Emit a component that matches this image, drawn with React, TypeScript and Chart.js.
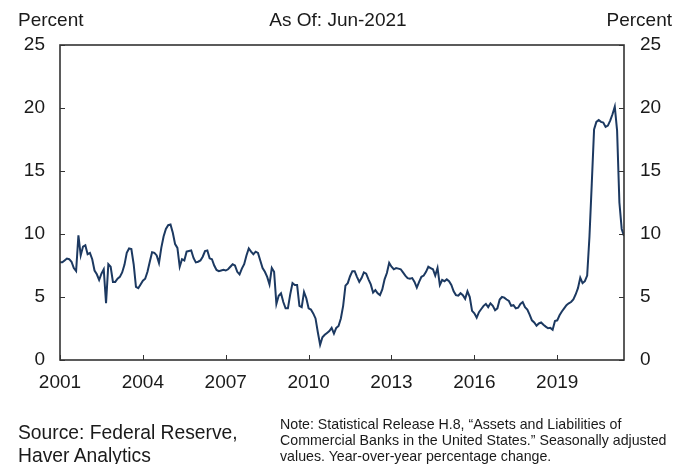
import React, { useEffect, useRef } from "react";
import { Chart, registerables } from "chart.js";

Chart.register(...registerables);

// Monthly year-over-year growth, Jan 2001 .. Jun 2021 (percent)
const START_YEAR = 2001;
const growth2001to2005 = [
  7.75, 7.75, 7.9, 8.05, 8.0, 7.8, 7.3, 7.06, 9.9, 8.3, 9.0, 9.1,
  8.4, 8.5, 8.0, 7.1, 6.8, 6.35, 6.85, 7.2, 4.5, 7.6, 7.4, 6.2,
  6.2, 6.45, 6.6, 6.95, 7.55, 8.5, 8.85, 8.8, 7.6, 5.8, 5.7, 6.0,
  6.3, 6.45, 7.0, 7.8, 8.55, 8.5, 8.3, 7.7, 8.9, 9.8, 10.4, 10.7,
  10.75, 10.1, 9.2, 8.9, 7.4, 8.0, 7.9, 8.6, 8.65, 8.7, 8.1, 7.75,
];
const growth2006to2010 = [
  7.8, 7.9, 8.2, 8.65, 8.7, 8.07, 8.0, 7.5, 7.15, 7.05, 7.1, 7.15,
  7.1, 7.2, 7.4, 7.6, 7.5, 7.0, 6.8, 7.25, 7.6, 8.3, 8.85, 8.6,
  8.4, 8.6, 8.5, 7.9, 7.3, 7.0, 6.6, 6.0, 7.3, 7.0, 4.45, 5.1,
  5.3, 4.6, 4.1, 4.1, 5.2, 6.1, 5.95, 5.95, 4.3, 4.2, 5.4, 4.9,
  4.1, 4.0, 3.7, 3.3, 2.2, 1.2, 1.8, 2.0, 2.15, 2.3, 2.55, 2.1,
];
const growth2011to2015 = [
  2.55, 2.7, 3.3, 4.3, 5.9, 6.1, 6.65, 7.05, 7.05, 6.6, 6.2, 6.5,
  6.95, 6.85, 6.4, 6.0, 5.35, 5.55, 5.3, 5.15, 5.6, 6.4, 6.9, 7.7,
  7.4, 7.2, 7.3, 7.25, 7.2, 6.95, 6.7, 6.5, 6.45, 6.5, 6.2, 5.75,
  6.2, 6.6, 6.7, 7.0, 7.4, 7.3, 7.2, 6.7, 7.3, 5.95, 6.35, 6.25,
  6.4, 6.25, 5.95, 5.45, 5.15, 5.1, 5.3, 5.15, 4.85, 5.45, 5.0, 3.9,
];
const growth2016to2021 = [
  3.7, 3.36, 3.8, 4.05, 4.3, 4.45, 4.2, 4.5, 4.3, 3.95, 4.1, 4.8,
  5.0, 4.95, 4.8, 4.68, 4.3, 4.35, 4.1, 4.15, 4.45, 4.6, 4.2, 4.0,
  3.6, 3.15, 2.98, 2.72, 2.9, 2.98, 2.8, 2.65, 2.52, 2.55, 2.4, 3.1,
  3.15, 3.55, 3.85, 4.1, 4.35, 4.5, 4.6, 4.8, 5.2, 5.7, 6.53, 6.1,
  6.25, 6.7, 9.8, 14.0, 18.3, 18.9, 19.05, 18.9, 18.85, 18.5, 18.6, 19.0,
  19.5, 20.1, 18.2, 12.5, 10.4, 9.85,
];
const bankCreditGrowth = [
  ...growth2001to2005,
  ...growth2006to2010,
  ...growth2011to2015,
  ...growth2016to2021,
];

const xTickYears = [2001, 2004, 2007, 2010, 2013, 2016, 2019];
const yTickValues = [0, 5, 10, 15, 20, 25];

const FONT = "'Liberation Sans', Arial, sans-serif";
const TEXT = "#1a1a1a";
const LINE = "#1c3961";
const FRAME = "#333333";

const yearToIndex = (yr: number) => (yr - START_YEAR) * 12;

const framePlugin = {
  id: "frameTicks",
  afterDatasetsDraw(chart: any) {
    const { ctx, chartArea, scales } = chart;
    const { left, right, top, bottom } = chartArea;
    ctx.save();
    ctx.strokeStyle = FRAME;
    ctx.lineWidth = 1.6;
    ctx.strokeRect(left, top, right - left, bottom - top);
    ctx.lineWidth = 1;
    ctx.beginPath();
    yTickValues.forEach((v) => {
      const y = Math.round(scales.y.getPixelForValue(v)) + 0.5;
      ctx.moveTo(left, y);
      ctx.lineTo(left + 5, y);
      ctx.moveTo(right - 5, y);
      ctx.lineTo(right, y);
    });
    xTickYears.forEach((yr) => {
      const x = Math.round(scales.x.getPixelForValue(yearToIndex(yr))) + 0.5;
      ctx.moveTo(x, bottom);
      ctx.lineTo(x, bottom - 5);
    });
    ctx.stroke();
    ctx.restore();
  },
};

export default function App() {
  const canvasRef = useRef<HTMLCanvasElement | null>(null);

  useEffect(() => {
    if (!canvasRef.current) return;
    const points = bankCreditGrowth.map((v, i) => ({ x: i, y: v }));
    const tickFont = { family: FONT, size: 19 };
    const chart = new Chart(canvasRef.current, {
      type: "line",
      data: {
        datasets: [
          {
            data: points,
            borderColor: LINE,
            borderWidth: 2,
            pointRadius: 0,
            tension: 0,
            fill: false,
          },
        ],
      },
      options: {
        animation: false,
        responsive: false,
        layout: { padding: { top: 45, bottom: 70, left: 0, right: 0 } },
        plugins: {
          legend: { display: false },
          tooltip: { enabled: false },
          title: { display: false },
        },
        scales: {
          x: {
            type: "linear",
            min: 0,
            max: bankCreditGrowth.length - 1,
            grid: { display: false, drawTicks: false, tickLength: 0 },
            border: { display: false },
            afterBuildTicks: (scale: any) => {
              scale.ticks = xTickYears.map((yr) => ({ value: yearToIndex(yr) }));
            },
            afterFit: (scale: any) => {
              scale.height = 34;
            },
            ticks: {
              autoSkip: false,
              maxRotation: 0,
              padding: 11,
              color: TEXT,
              font: tickFont,
              callback: (v: any) => String(START_YEAR + Math.round(Number(v) / 12)),
            },
          },
          y: {
            position: "left",
            min: 0,
            max: 25,
            grid: { display: false, drawTicks: false, tickLength: 0 },
            border: { display: false },
            afterBuildTicks: (scale: any) => {
              scale.ticks = yTickValues.map((v) => ({ value: v }));
            },
            afterFit: (scale: any) => {
              scale.width = 60;
            },
            ticks: { padding: 15, color: TEXT, font: tickFont },
          },
          y2: {
            position: "right",
            min: 0,
            max: 25,
            grid: { display: false, drawTicks: false, tickLength: 0 },
            border: { display: false },
            afterBuildTicks: (scale: any) => {
              scale.ticks = yTickValues.map((v) => ({ value: v }));
            },
            afterFit: (scale: any) => {
              scale.width = 50;
            },
            ticks: { padding: 16, color: TEXT, font: tickFont },
          },
        },
      },
      plugins: [framePlugin],
    } as any);
    return () => chart.destroy();
  }, []);

  const base: React.CSSProperties = {
    position: "absolute",
    fontFamily: FONT,
    color: TEXT,
    whiteSpace: "nowrap",
  };

  return (
    <div style={{ position: "absolute", left: 0, top: 0, width: 674, height: 464, background: "#fff" }}>
      <canvas ref={canvasRef} width={674} height={464} style={{ position: "absolute", left: 0, top: 0 }} />
      <div style={{ ...base, left: 18, top: 10, fontSize: 19, lineHeight: "20px" }}>Percent</div>
      <div style={{ ...base, left: 0, width: 676, top: 10, fontSize: 19, lineHeight: "20px", textAlign: "center" }}>
        As Of: Jun-2021
      </div>
      <div style={{ ...base, right: 2, top: 10, fontSize: 19, lineHeight: "20px" }}>Percent</div>
      <div style={{ ...base, left: 18, top: 421, fontSize: 19.3, lineHeight: "23px" }}>
        Source: Federal Reserve,
        <br />
        Haver Analytics
      </div>
      <div style={{ ...base, left: 280, top: 416, fontSize: 14.2, lineHeight: "16px" }}>
        Note: Statistical Release H.8, “Assets and Liabilities of
        <br />
        Commercial Banks in the United States.” Seasonally adjusted
        <br />
        values. Year-over-year percentage change.
      </div>
    </div>
  );
}
